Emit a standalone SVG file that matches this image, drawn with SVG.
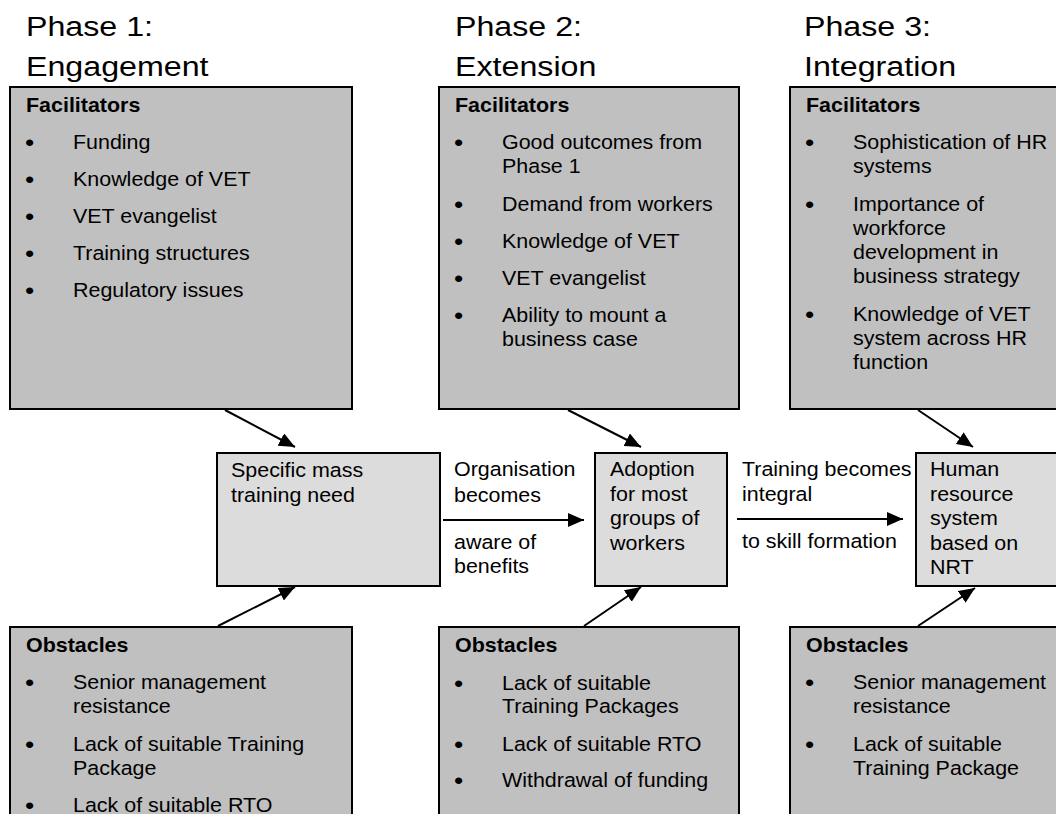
<svg xmlns="http://www.w3.org/2000/svg" width="1056" height="814" viewBox="0 0 1056 814">
<style>
text{font-family:"Liberation Sans",Arial,sans-serif;fill:#000}
.t{font-size:28px}
.b{font-size:19.5px}
.d{font-size:24px}
.h{font-size:19.5px;font-weight:bold}
.outer{fill:#c0c0c0;stroke:#000;stroke-width:2}
.inner{fill:#dcdcdc;stroke:#000;stroke-width:2}
.c{stroke:#000;stroke-width:2;fill:none;marker-end:url(#ah)}
</style>
<defs>
<marker id="ah" markerUnits="userSpaceOnUse" markerWidth="18" markerHeight="16" refX="16" refY="7" orient="auto">
<path d="M0,0 L16,7 L0,14 Z" fill="#000"/>
</marker>
</defs>
<rect width="1056" height="814" fill="#fff"/>

<g id="titles">
<text class="t" transform="translate(26 0) scale(1.15 1)"><tspan x="0" y="36">Phase 1:</tspan><tspan x="0" y="76">Engagement</tspan></text>
<text class="t" transform="translate(455 0) scale(1.15 1)"><tspan x="0" y="36">Phase 2:</tspan><tspan x="0" y="76">Extension</tspan></text>
<text class="t" transform="translate(804 0) scale(1.15 1)"><tspan x="0" y="36">Phase 3:</tspan><tspan x="0" y="76">Integration</tspan></text>
</g>

<g id="connectors">
<line class="c" x1="225" y1="410" x2="295" y2="447"/>
<line class="c" x1="568" y1="410" x2="641" y2="447"/>
<line class="c" x1="918" y1="410" x2="973" y2="447"/>
<line class="c" x1="218" y1="626" x2="295" y2="587"/>
<line class="c" x1="584" y1="626" x2="641" y2="587"/>
<line class="c" x1="918" y1="626" x2="975" y2="588"/>
<line class="c" x1="443" y1="520" x2="584" y2="520"/>
<line class="c" x1="737" y1="519" x2="903" y2="519"/>
</g>

<g id="facilitators1">
<rect class="outer" x="10" y="87" width="342" height="322"/>
<text class="h" transform="translate(26 0) scale(1.1 1)"><tspan x="0" y="112">Facilitators</tspan></text>
<text class="d" transform="translate(25 0) scale(1.1 1)"><tspan x="0" y="151">•</tspan><tspan x="0" y="188">•</tspan><tspan x="0" y="225">•</tspan><tspan x="0" y="262">•</tspan><tspan x="0" y="299">•</tspan></text>
<text class="b" transform="translate(73 0) scale(1.1 1)"><tspan x="0" y="149">Funding</tspan><tspan x="0" y="186">Knowledge of VET</tspan><tspan x="0" y="223">VET evangelist</tspan><tspan x="0" y="260">Training structures</tspan><tspan x="0" y="297">Regulatory issues</tspan></text>
</g>

<g id="facilitators2">
<rect class="outer" x="439" y="87" width="300" height="322"/>
<text class="h" transform="translate(455 0) scale(1.1 1)"><tspan x="0" y="112">Facilitators</tspan></text>
<text class="d" transform="translate(454 0) scale(1.1 1)"><tspan x="0" y="151">•</tspan><tspan x="0" y="213">•</tspan><tspan x="0" y="250">•</tspan><tspan x="0" y="287">•</tspan><tspan x="0" y="324">•</tspan></text>
<text class="b" transform="translate(502 0) scale(1.1 1)"><tspan x="0" y="149">Good outcomes from</tspan><tspan x="0" y="173">Phase 1</tspan><tspan x="0" y="211">Demand from workers</tspan><tspan x="0" y="248">Knowledge of VET</tspan><tspan x="0" y="285">VET evangelist</tspan><tspan x="0" y="322">Ability to mount a</tspan><tspan x="0" y="346">business case</tspan></text>
</g>

<g id="facilitators3">
<rect class="outer" x="790" y="87" width="300" height="322"/>
<text class="h" transform="translate(806 0) scale(1.1 1)"><tspan x="0" y="112">Facilitators</tspan></text>
<text class="d" transform="translate(805 0) scale(1.1 1)"><tspan x="0" y="151">•</tspan><tspan x="0" y="213">•</tspan><tspan x="0" y="323">•</tspan></text>
<text class="b" transform="translate(853 0) scale(1.1 1)"><tspan x="0" y="149">Sophistication of HR</tspan><tspan x="0" y="173">systems</tspan><tspan x="0" y="211">Importance of</tspan><tspan x="0" y="235">workforce</tspan><tspan x="0" y="259">development in</tspan><tspan x="0" y="283">business strategy</tspan><tspan x="0" y="321">Knowledge of VET</tspan><tspan x="0" y="345">system across HR</tspan><tspan x="0" y="369">function</tspan></text>
</g>

<g id="need">
<rect class="inner" x="217" y="453" width="223" height="133"/>
<text class="b" transform="translate(231 0) scale(1.1 1)"><tspan x="0" y="477">Specific mass</tspan><tspan x="0" y="502">training need</tspan></text>
</g>

<g id="label1">
<text class="b" transform="translate(454 0) scale(1.1 1)"><tspan x="0" y="476">Organisation</tspan><tspan x="0" y="502">becomes</tspan><tspan x="0" y="549">aware of</tspan><tspan x="0" y="573">benefits</tspan></text>
</g>

<g id="adoption">
<rect class="inner" x="595" y="453" width="132" height="133"/>
<text class="b" transform="translate(610 0) scale(1.1 1)"><tspan x="0" y="476">Adoption</tspan><tspan x="0" y="501">for most</tspan><tspan x="0" y="525">groups of</tspan><tspan x="0" y="550">workers</tspan></text>
</g>

<g id="label2">
<text class="b" transform="translate(742 0) scale(1.1 1)"><tspan x="0" y="476">Training becomes</tspan><tspan x="0" y="501">integral</tspan><tspan x="0" y="548">to skill formation</tspan></text>
</g>

<g id="hrsystem">
<rect class="inner" x="916" y="453" width="200" height="133"/>
<text class="b" transform="translate(930 0) scale(1.1 1)"><tspan x="0" y="476">Human</tspan><tspan x="0" y="501">resource</tspan><tspan x="0" y="525">system</tspan><tspan x="0" y="550">based on</tspan><tspan x="0" y="574">NRT</tspan></text>
</g>

<g id="obstacles1">
<rect class="outer" x="10" y="627" width="342" height="260"/>
<text class="h" transform="translate(26 0) scale(1.1 1)"><tspan x="0" y="652">Obstacles</tspan></text>
<text class="d" transform="translate(25 0) scale(1.1 1)"><tspan x="0" y="691">•</tspan><tspan x="0" y="753">•</tspan><tspan x="0" y="814">•</tspan></text>
<text class="b" transform="translate(73 0) scale(1.1 1)"><tspan x="0" y="689">Senior management</tspan><tspan x="0" y="713">resistance</tspan><tspan x="0" y="751">Lack of suitable Training</tspan><tspan x="0" y="775">Package</tspan><tspan x="0" y="812">Lack of suitable RTO</tspan></text>
</g>

<g id="obstacles2">
<rect class="outer" x="439" y="627" width="300" height="260"/>
<text class="h" transform="translate(455 0) scale(1.1 1)"><tspan x="0" y="652">Obstacles</tspan></text>
<text class="d" transform="translate(454 0) scale(1.1 1)"><tspan x="0" y="692">•</tspan><tspan x="0" y="753">•</tspan><tspan x="0" y="789">•</tspan></text>
<text class="b" transform="translate(502 0) scale(1.1 1)"><tspan x="0" y="690">Lack of suitable</tspan><tspan x="0" y="713">Training Packages</tspan><tspan x="0" y="751">Lack of suitable RTO</tspan><tspan x="0" y="787">Withdrawal of funding</tspan></text>
</g>

<g id="obstacles3">
<rect class="outer" x="790" y="627" width="300" height="260"/>
<text class="h" transform="translate(806 0) scale(1.1 1)"><tspan x="0" y="652">Obstacles</tspan></text>
<text class="d" transform="translate(805 0) scale(1.1 1)"><tspan x="0" y="691">•</tspan><tspan x="0" y="753">•</tspan></text>
<text class="b" transform="translate(853 0) scale(1.1 1)"><tspan x="0" y="689">Senior management</tspan><tspan x="0" y="713">resistance</tspan><tspan x="0" y="751">Lack of suitable</tspan><tspan x="0" y="775">Training Package</tspan></text>
</g>
</svg>
